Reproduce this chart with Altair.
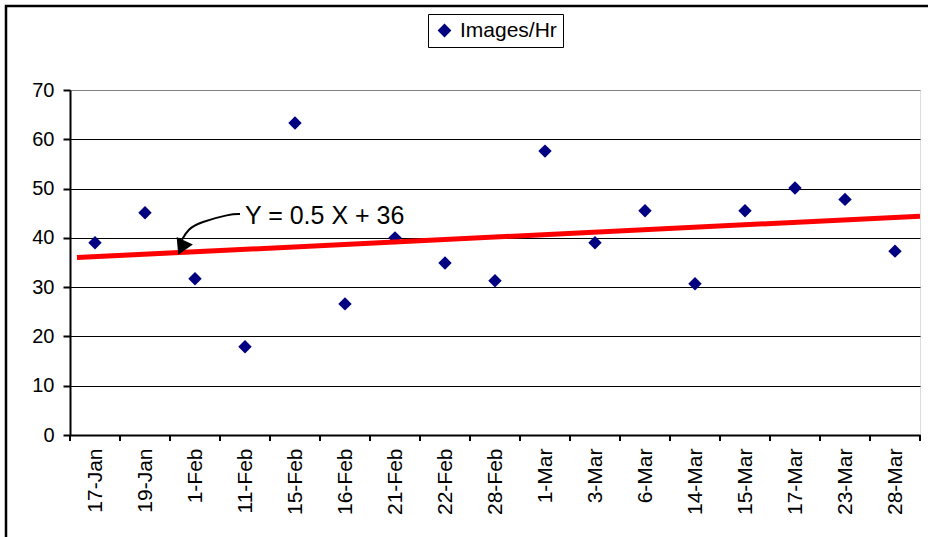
import altair as alt
import pandas as pd

# ---- data ----
dates = ["17-Jan", "19-Jan", "1-Feb", "11-Feb", "15-Feb", "16-Feb", "21-Feb", "22-Feb",
         "28-Feb", "1-Mar", "3-Mar", "6-Mar", "14-Mar", "15-Mar", "17-Mar", "23-Mar", "28-Mar"]
images_per_hr = [39.0, 45.1, 31.7, 17.9, 63.3, 26.6, 40.0, 34.9,
                 31.3, 57.6, 39.0, 45.5, 30.7, 45.5, 50.1, 47.8, 37.3]
series_name = "Images/Hr"

# trend line endpoints (x in category units, 0 = left edge of first category)
trend_x = [0.14, 17.0]
trend_y = [36.0, 44.4]
trend_label = "Y = 0.5 X + 36"

y_ticks = [0, 10, 20, 30, 40, 50, 60, 70]

# annotation arrow (category units / value units)
arrow_u = [3.40, 3.20, 2.60, 2.36, 2.24]
arrow_v = [44.84, 44.84, 43.16, 41.80, 39.6]
arrowhead_u = [2.23]
arrowhead_v = [38.0]
label_u = [3.5]
label_v = [42.8]

FONT = "Liberation Sans"
W, H = 850, 345
N = len(dates)

pts = pd.DataFrame({"date": dates, "value": images_per_hr, "series": [series_name] * N})
trend = pd.DataFrame({"u": trend_x, "v": trend_y})
edges = pd.DataFrame({"u": list(range(N + 1))})
arrow = pd.DataFrame({"u": arrow_u, "v": arrow_v, "o": list(range(len(arrow_u)))})
head = pd.DataFrame({"u": arrowhead_u, "v": arrowhead_v})
lab = pd.DataFrame({"u": label_u, "v": label_v, "t": [trend_label]})
frame = pd.DataFrame({"k": [0]})

yscale = alt.Scale(domain=[0, 70], nice=False)
uscale = alt.Scale(domain=[0, N], nice=False, zero=False)
yaxis = alt.Axis(title=None, values=y_ticks, labelFontSize=20, labelFont=FONT,
                 labelColor="black", labelPadding=9, tickSize=7, tickColor="black",
                 tickWidth=2, domainColor="black", domainWidth=2,
                 grid=True, gridWidth=1,
                 gridColor={"condition": {"test": "datum.value === 70", "value": "#808080"},
                            "value": "black"})


def Y(field):
    return alt.Y(field, scale=yscale, axis=yaxis)


points = alt.Chart(pts).mark_point(shape="diamond", filled=True, size=180, opacity=1).encode(
    x=alt.X("date:N", sort=dates,
            scale=alt.Scale(paddingInner=0, paddingOuter=0),
            axis=alt.Axis(title=None, ticks=False, labelAngle=-90, labelFontSize=21,
                          labelFont=FONT, labelColor="black", labelPadding=13,
                          domainColor="black", domainWidth=2, grid=False)),
    y=Y("value:Q"),
    color=alt.Color("series:N", scale=alt.Scale(range=["#000080"]),
                    legend=alt.Legend(title=None, orient="none", legendX=358, legendY=-76,
                                      symbolType="diamond", symbolSize=190, labelFontSize=21,
                                      labelFont=FONT, labelColor="black", padding=6,
                                      strokeColor="black", symbolStrokeWidth=0,
                                      labelOffset=5)),
)

xticks = alt.Chart(edges).mark_rule(color="black", strokeWidth=2).encode(
    x=alt.X("u:Q", scale=uscale, axis=None),
    y=alt.value(H),
    y2=alt.value(H + 6),
)

trend_line = alt.Chart(trend).mark_line(color="#ff0000", strokeWidth=5).encode(
    x=alt.X("u:Q", scale=uscale, axis=None),
    y=Y("v:Q"),
)

arrow_line = alt.Chart(arrow).mark_line(color="black", strokeWidth=2, interpolate="basis").encode(
    x=alt.X("u:Q", scale=uscale, axis=None),
    y=Y("v:Q"),
    order="o:Q",
)

arrow_head = alt.Chart(head).mark_point(shape="triangle-down", filled=True, size=320,
                                        color="black", opacity=1, angle=25).encode(
    x=alt.X("u:Q", scale=uscale, axis=None),
    y=Y("v:Q"),
)

label = alt.Chart(lab).mark_text(align="left", baseline="alphabetic", fontSize=25,
                                 font=FONT, color="black").encode(
    x=alt.X("u:Q", scale=uscale, axis=None),
    y=Y("v:Q"),
    text="t:N",
)

border = alt.Chart(frame).mark_rect(fillOpacity=0, stroke="black", strokeWidth=2.5).encode(
    x=alt.value(-64), x2=alt.value(W + 40), y=alt.value(-84), y2=alt.value(H + 140),
)

chart = alt.layer(border, points, xticks, trend_line, arrow_line, arrow_head, label).resolve_scale(
    x="independent"
).properties(
    width=W, height=H,
    autosize=alt.AutoSizeParams(type="none"),
    padding={"left": 70, "top": 90, "right": 8, "bottom": 102},
).configure_view(
    stroke="#808080", strokeWidth=2
).configure_legend(
    strokeWidth=2
).configure(background="white")

chart.save("out.html", embed_options={"renderer": "svg", "actions": False})
